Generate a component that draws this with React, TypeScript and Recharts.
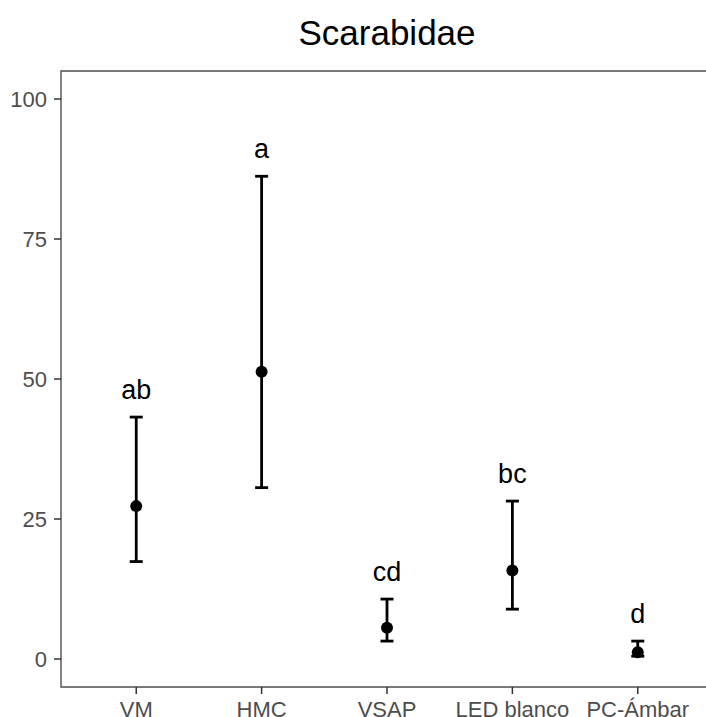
import {
  ComposedChart,
  Scatter,
  ErrorBar,
  XAxis,
  YAxis,
  ReferenceArea,
} from 'recharts';

const categories = ['VM', 'HMC', 'VSAP', 'LED blanco', 'PC-Ámbar'];
const means = [27.3, 51.3, 5.6, 15.8, 1.2];
const lower = [17.4, 30.6, 3.2, 8.9, 0.5];
const upper = [43.2, 86.2, 10.7, 28.2, 3.2];
const letters = ['ab', 'a', 'cd', 'bc', 'd'];
const yTicks = [0, 25, 50, 75, 100];

const rows = categories.map((name, i) => ({
  x: i + 1,
  name,
  mean: means[i],
  hi: upper[i],
  err: [means[i] - lower[i], upper[i] - means[i]],
  letter: letters[i],
}));

const font = '"Liberation Sans", Arial, Helvetica, sans-serif';

const Dot = (p: any) => <circle cx={p.cx} cy={p.cy} r={6} fill="#000" />;

// group letter sits just above the upper whisker
const Letter = (p: any) => (
  <text
    x={p.cx}
    y={p.cy - 18}
    textAnchor="middle"
    fontSize={27}
    fontFamily={font}
    fill="#000"
  >
    {p.payload.letter}
  </text>
);

export default function App() {
  const tick = { fontSize: 22, fill: '#4d4d4d', fontFamily: font };
  return (
    <div
      style={{
        position: 'fixed',
        left: 0,
        top: 0,
        width: 706,
        height: 717,
        overflow: 'hidden',
        background: '#fff',
      }}
    >
      <div
        style={{
          position: 'absolute',
          left: 0,
          top: 16,
          width: 774,
          textAlign: 'center',
          fontFamily: font,
          fontSize: 35,
          lineHeight: '34px',
          color: '#000',
        }}
      >
        Scarabidae
      </div>
      <div style={{ position: 'absolute', left: 0, top: 0 }}>
        <ComposedChart
          width={760}
          height={760}
          data={rows}
          margin={{ top: 71, right: 47, bottom: 33, left: 0 }}
        >
          <XAxis
            type="number"
            dataKey="x"
            domain={[0.4, 5.6]}
            ticks={[1, 2, 3, 4, 5]}
            tickFormatter={(v: number) => categories[v - 1]}
            allowDataOverflow
            axisLine={false}
            tickSize={7}
            tickMargin={7}
            tickLine={{ stroke: '#333', strokeWidth: 1.5 }}
            tick={tick}
            height={40}
            interval={0}
          />
          <YAxis
            type="number"
            domain={[-5, 105]}
            ticks={yTicks}
            allowDataOverflow
            axisLine={false}
            width={61}
            tickSize={7}
            tickMargin={7}
            tickLine={{ stroke: '#333', strokeWidth: 1.5 }}
            tick={tick}
          />
          <ReferenceArea
            x1={0.4}
            x2={5.6}
            y1={-5}
            y2={105}
            fill="none"
            fillOpacity={0}
            stroke="#4d4d4d"
            strokeWidth={1.4}
            ifOverflow="visible"
          />
          <Scatter dataKey="mean" shape={Dot} isAnimationActive={false}>
            <ErrorBar
              dataKey="err"
              direction="y"
              width={6.5}
              stroke="#000"
              strokeWidth={2.8}
              isAnimationActive={false}
            />
          </Scatter>
          <Scatter dataKey="hi" shape={Letter} isAnimationActive={false} />
        </ComposedChart>
      </div>
    </div>
  );
}
